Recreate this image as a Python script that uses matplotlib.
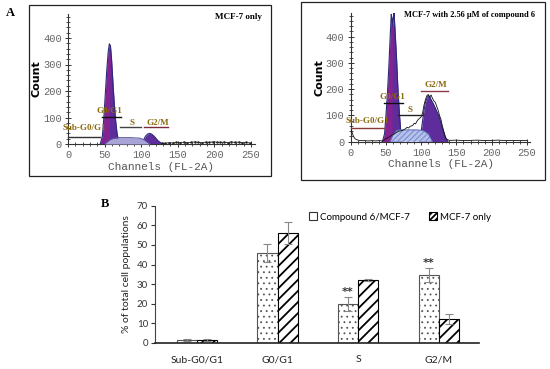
"""
Cell cycle analysis figure: flow cytometry histograms (A) and phase distribution bars (B).
"""

import matplotlib
matplotlib.use('Agg')  # Non-interactive backend
import matplotlib.pyplot as plt
import numpy as np
from matplotlib.patches import Rectangle

# ---------------- Panel A data (channel, count) ----------------
# MCF-7 only
ctrl_g1_ch = [44, 47, 49, 51, 53, 55, 56.5, 58, 59.5, 61, 63, 65, 67, 69, 71]
ctrl_g1_ct = [0, 30, 100, 190, 280, 350, 378, 370, 320, 250, 160, 90, 40, 12, 0]
ctrl_s_ch = [50, 54, 58, 63, 70, 85, 98, 104, 108, 112]
ctrl_s_ct = [0, 10, 18, 22, 24, 24, 22, 16, 8, 0]
ctrl_g2_ch = [100, 103, 106, 109, 112, 115, 119, 123, 127, 131]
ctrl_g2_ct = [0, 14, 30, 38, 40, 36, 25, 12, 4, 0]
ctrl_tail_ch = [128, 133, 138, 143, 148, 153, 158, 163, 168, 173, 178, 183, 188,
                193, 198, 203, 208, 213, 218, 223, 228, 233, 238, 243, 248]
ctrl_tail_ct = [2, 3, 5, 4, 6, 5, 7, 5, 6, 8, 6, 5, 7, 6, 8, 7, 6, 7, 5, 8, 6, 7, 5, 6, 4]

# MCF-7 with 2.56 uM of compound 6
trt_g1_ch = [45, 48, 50, 52, 54, 56, 57.5, 58.5, 59.5, 60.5, 61.5, 63, 65, 67, 69, 71, 73]
trt_g1_ct = [0, 30, 100, 180, 280, 400, 485, 470, 440, 470, 490, 420, 320, 200, 110, 40, 0]
trt_s_ch = [56, 60, 65, 70, 95, 103, 110, 116]
trt_s_ct = [0, 25, 42, 45, 45, 42, 30, 0]
trt_g2_ch = [98, 100, 102, 104, 106, 108, 110, 112, 114, 116, 118, 120, 123, 126, 129, 132, 135, 138]
trt_g2_ct = [0, 40, 80, 120, 150, 165, 175, 172, 160, 150, 140, 128, 110, 90, 60, 35, 12, 0]
trt_line_ch = [0, 1, 2, 4, 6, 8, 12, 16, 20, 25, 30, 35, 40, 45, 68, 72, 75, 78, 80, 82, 84,
               86, 88, 90, 92, 94, 96, 98, 100, 102, 104, 106, 108, 110, 112, 114, 116, 118,
               120, 122, 124, 126, 128, 130, 132, 134, 136, 140, 150, 160, 170, 180, 190,
               200, 210, 220, 230, 240, 250]
trt_line_ct = [52, 45, 35, 20, 12, 8, 5, 4, 4, 3, 4, 3, 4, 3, 40, 42, 45, 50, 55, 52, 58,
               60, 62, 70, 68, 78, 85, 90, 95, 110, 140, 160, 175, 180, 170, 178, 165, 155,
               150, 135, 120, 100, 85, 60, 40, 20, 10, 5, 6, 4, 5, 6, 4, 5, 6, 4, 5, 4, 5]

# gate bars: (label, x0, x1, bar count, text channel, text count, line colour)
ctrl_gates = [("Sub-G0/G1", 0, 44, 27, 23, 59, "#333333"),
              ("G0/G1", 46, 73, 103, 57, 126, "#111111"),
              ("S", 71, 100, 63, 87, 80, "#444444"),
              ("G2/M", 104, 137, 63, 123, 80, "#7a2a3a")]
trt_gates = [("Sub-G0/G1", 0, 47, 53, 23, 80, "#8a3a3a"),
             ("G0/G1", 47, 74, 149, 59, 171, "#111111"),
             ("S", 67, 103, 100, 84, 121, "#222222"),
             ("G2/M", 100, 138, 193, 121, 216, "#8a3a4a")]

# ---------------- Panel B data ----------------
phases = ["Sub-G0/G1", "G0/G1", "S", "G2/M"]
compound = [1.5, 45.8, 19.8, 34.6]
compound_err = [0.3, 4.5, 3.5, 3.5]
control = [1.5, 56.0, 32.3, 12.1]
control_err = [0.3, 5.6, 0.5, 2.5]
signif = ["", "", "**", "**"]

W, H = 550, 369
PURPLE = "#5f2c9c"
MAGENTA = "#921f8e"
EDGE = "#2c2a78"
GATE_TXT = "#8b6a10"
MONO = "Liberation Mono"


def px_rect(x0, y0, x1, y1):
    """Pixel box (top-left origin) -> figure fraction rect."""
    return [x0 / W, 1 - y1 / H, (x1 - x0) / W, (y1 - y0) / H]


def style_hist_axes(ax):
    ax.set_xlim(0, 255)
    ax.set_ylim(0, 490)
    for side in ("top", "right"):
        ax.spines[side].set_visible(False)
    for side in ("left", "bottom"):
        ax.spines[side].set_color("#333333")
        ax.spines[side].set_linewidth(0.8)
    ax.set_xticks(np.arange(0, 251, 50))
    ax.set_xticks(np.arange(0, 251, 10), minor=True)
    ax.set_yticks(np.arange(0, 401, 100))
    ax.set_yticks(np.arange(0, 481, 20), minor=True)
    ax.tick_params(which="major", direction="inout", length=5, width=0.7,
                   colors="#333333", labelcolor="#666666", labelsize=7.5, pad=2)
    ax.tick_params(which="minor", direction="inout", length=3, width=0.6, colors="#333333")
    for lbl in ax.get_xticklabels() + ax.get_yticklabels():
        lbl.set_family(MONO)
    ax.set_xlabel("Channels (FL-2A)", family=MONO, fontsize=8, color="#555555", labelpad=1)
    ax.set_ylabel("Count", fontsize=8, fontweight="bold", labelpad=1)
    ax.patch.set_alpha(0)


def draw_gates(ax, gates):
    for label, x0, x1, yb, tx, ty, col in gates:
        ax.plot([x0, x1], [yb, yb], color=col, lw=1.0, zorder=6, clip_on=False)
        ax.text(tx, ty, label, ha="center", va="center", family="Liberation Serif",
                fontweight="bold", fontsize=6.5, color=GATE_TXT, zorder=7)


def draw_peak(ax, ch, ct, split):
    ch = np.array(ch)
    ct = np.array(ct)
    ax.fill_between(ch, ct, color=PURPLE, lw=0, zorder=2)
    ax.fill_between(ch, ct, where=ch <= split, interpolate=True, color=MAGENTA,
                    alpha=0.75, lw=0, zorder=2)
    ax.plot(ch, ct, color=EDGE, lw=0.8, zorder=3)


fig = plt.figure(figsize=(W / 100, H / 100), dpi=100)
fig.patch.set_facecolor("white")

# panel frames
fig.add_artist(Rectangle((29 / W, 1 - 176 / H), 242 / W, 171 / H, transform=fig.transFigure,
                         fill=False, ec="#222222", lw=0.9))
fig.add_artist(Rectangle((301 / W, 1 - 180 / H), 244 / W, 178 / H, transform=fig.transFigure,
                         fill=False, ec="#222222", lw=0.9))
fig.text(10 / W, 1 - 13 / H, "A", family="Liberation Serif", fontweight="bold", fontsize=9,
         ha="center", va="center")

# ---- MCF-7 only histogram ----
ax1 = fig.add_axes(px_rect(68, 144 - 490 * 0.265, 68 + 255 * 0.732, 144))
style_hist_axes(ax1)
draw_peak(ax1, ctrl_g1_ch, ctrl_g1_ct, 57)
ax1.fill_between(ctrl_s_ch, ctrl_s_ct, color="#a8a4d8", lw=0, zorder=4)
ax1.plot(ctrl_s_ch, ctrl_s_ct, color="#55529e", lw=0.7, zorder=4)
draw_peak(ax1, ctrl_g2_ch, ctrl_g2_ct, 0)
ax1.plot(ctrl_tail_ch, ctrl_tail_ct, color="#222222", lw=0.6, marker=".", ms=1.5, zorder=3)
draw_gates(ax1, ctrl_gates)
fig.text(238 / W, 1 - 17 / H, "MCF-7 only", family="Liberation Serif", fontweight="bold",
         fontsize=6.5, ha="center", va="center")

# ---- treated histogram ----
ax2 = fig.add_axes(px_rect(350.7, 141.7 - 490 * 0.2625, 350.7 + 255 * 0.705, 141.7))
style_hist_axes(ax2)
draw_peak(ax2, trt_g1_ch, trt_g1_ct, 59)
ax2.fill_between(trt_s_ch, trt_s_ct, facecolor="#b6c4ec", edgecolor="#8494d4",
                 hatch="//////", lw=0, zorder=4)
ax2.plot(trt_s_ch, trt_s_ct, color="#5e6cb8", lw=0.7, zorder=4)
draw_peak(ax2, trt_g2_ch, trt_g2_ct, 0)
ax2.plot(trt_line_ch, trt_line_ct, color="#111111", lw=0.6, zorder=5)
draw_gates(ax2, trt_gates)
fig.text(470 / W, 1 - 15 / H, "MCF-7 with 2.56 \u03bcM of compound 6", family="Liberation Serif",
         fontweight="bold", fontsize=6.0, ha="center", va="center")

# ---- Panel B bar chart ----
ax3 = fig.add_axes(px_rect(155, 205.7, 479, 343))
x = np.arange(len(phases))
width = 0.25
err_kw = dict(ecolor="#888888", elinewidth=0.8, capsize=3, capthick=0.8)
plt.rcParams["hatch.linewidth"] = 0.6
ax3.bar(x - width / 2, compound, width, yerr=compound_err, color="white", edgecolor="#555555",
        hatch="...", lw=0.8, error_kw=err_kw)
comp_handle = Rectangle((0, 0), 1, 1, fc="white", ec="#333333", lw=0.8)
plt.rcParams["hatch.linewidth"] = 1.3
ax3.bar(x + width / 2, control, width, yerr=control_err, color="white", edgecolor="black",
        hatch="///", lw=0.8, error_kw=err_kw)
ctrl_handle = Rectangle((0, 0), 1, 1, fc="white", ec="black", hatch="//////", lw=0.8)
for xi, v, e, s in zip(x, compound, compound_err, signif):
    if s:
        ax3.text(xi - width / 2, v + e + 0.3, s, ha="center", va="bottom",
                 fontsize=8, fontweight="bold", color="#333333")

ax3.set_xlim(-0.52, 3.5)
ax3.set_ylim(0, 70)
ax3.set_yticks(np.arange(0, 71, 10))
ax3.set_xticks(x)
ax3.set_xticklabels(phases)
for side in ("top", "right"):
    ax3.spines[side].set_visible(False)
ax3.spines["left"].set_color("#444444")
ax3.spines["bottom"].set_color("#222222")
ax3.spines["bottom"].set_linewidth(1.2)
ax3.tick_params(axis="y", direction="out", length=3, labelsize=7, colors="#333333", pad=2)
ax3.tick_params(axis="x", length=0, labelsize=7.5, colors="#222222", pad=9)
for lbl in ax3.get_xticklabels() + ax3.get_yticklabels():
    lbl.set_family("Lato")
ax3.set_ylabel("% of total cell populations", family="Lato", fontsize=7.5, color="#222222",
               labelpad=4)
ax3.legend([comp_handle, ctrl_handle], ["Compound 6/MCF-7", "MCF-7 only"],
           loc="center", bbox_to_anchor=(0.756, 0.918), ncol=2, frameon=False,
           prop={"family": "Lato", "size": 7.0}, handlelength=0.8, handleheight=0.8,
           handletextpad=0.3, columnspacing=2.0)
fig.text(105 / W, 1 - 204 / H, "B", family="Liberation Serif", fontweight="bold", fontsize=9,
         ha="center", va="center")

fig.savefig("out.png", dpi=100, facecolor="white")
plt.close(fig)
